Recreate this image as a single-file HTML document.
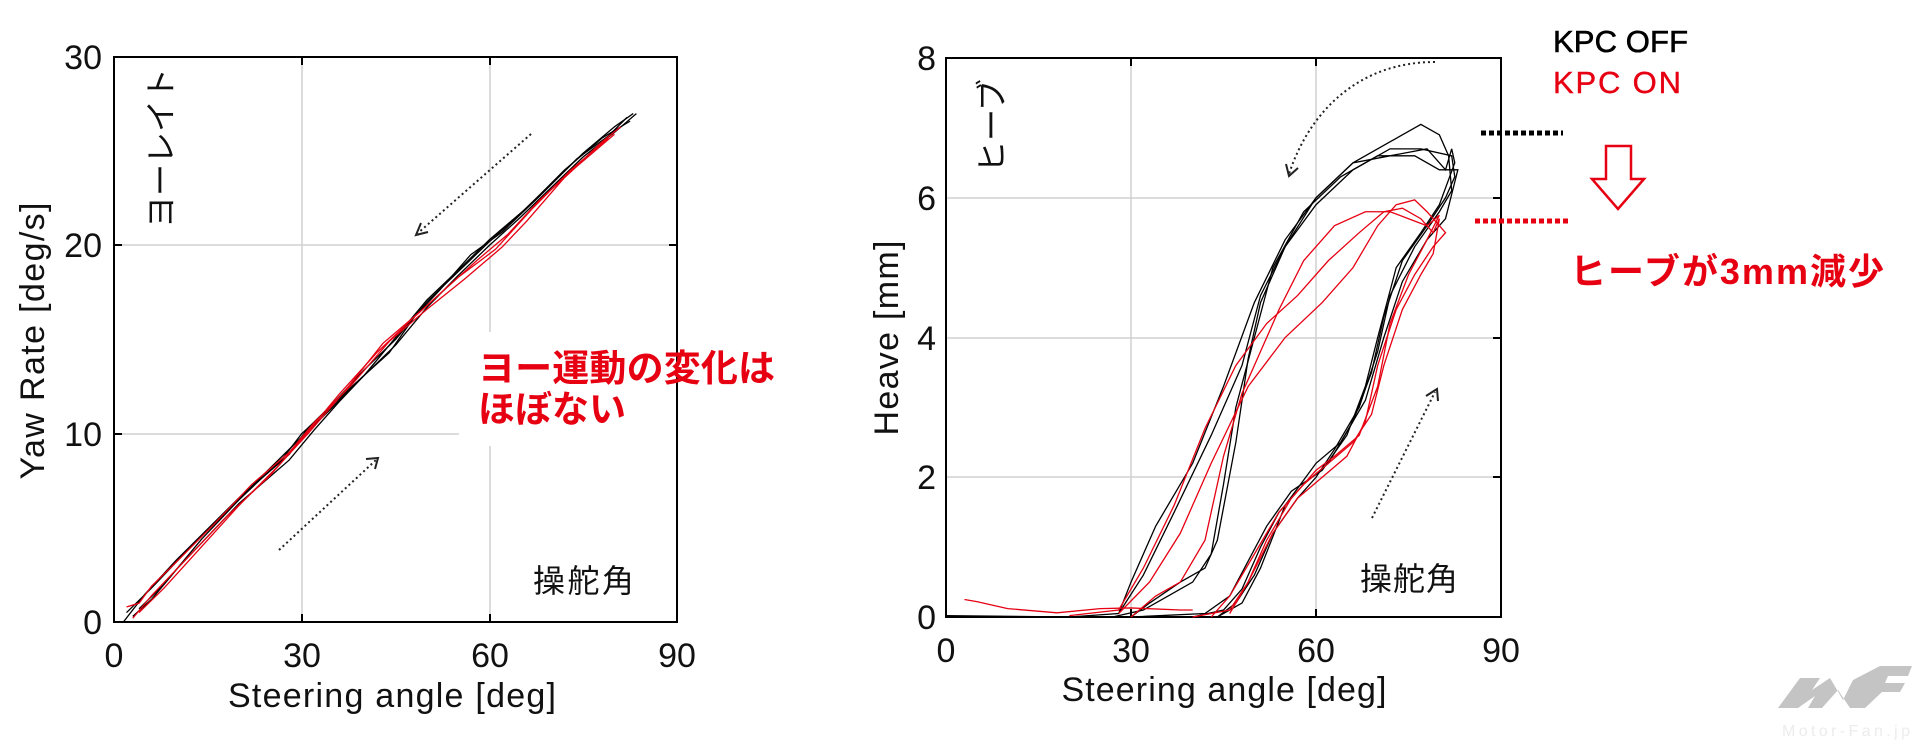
<!DOCTYPE html>
<html><head><meta charset="utf-8"><style>
html,body{margin:0;padding:0;background:#fff;}
svg{display:block;}
text{font-family:"Liberation Sans","Noto Sans CJK JP",sans-serif;}
</style></head><body>
<svg width="1920" height="745" viewBox="0 0 1920 745" xmlns="http://www.w3.org/2000/svg">
<!-- LEFT PLOT -->
<g stroke="#d0d0d0" stroke-width="1.5">
<line x1="302" y1="57" x2="302" y2="622"/><line x1="490" y1="57" x2="490" y2="622"/>
<line x1="114" y1="245" x2="677" y2="245"/><line x1="114" y1="434" x2="677" y2="434"/>
</g>
<rect x="459" y="332" width="240" height="114" fill="#fff"/>
<rect x="114" y="57" width="563" height="565" fill="none" stroke="#000" stroke-width="2"/>
<g stroke="#000" stroke-width="2">
<line x1="302" y1="622" x2="302" y2="614"/><line x1="490" y1="622" x2="490" y2="614"/>
<line x1="302" y1="57" x2="302" y2="65"/><line x1="490" y1="57" x2="490" y2="65"/>
<line x1="114" y1="245" x2="122" y2="245"/><line x1="114" y1="434" x2="122" y2="434"/>
<line x1="677" y1="245" x2="669" y2="245"/>
</g>
<g font-size="34" fill="#111" text-anchor="middle">
<text x="114" y="667">0</text><text x="302" y="667">30</text><text x="490" y="667">60</text><text x="677" y="667">90</text>
</g>
<g font-size="34" fill="#111" text-anchor="end">
<text x="102" y="634">0</text><text x="102" y="446">10</text><text x="102" y="257">20</text><text x="102" y="69">30</text>
</g>
<text x="392" y="707" font-size="34" fill="#111" text-anchor="middle" textLength="328">Steering angle [deg]</text>
<text transform="translate(44,341) rotate(-90)" font-size="34" fill="#111" text-anchor="middle" textLength="277">Yaw Rate [deg/s]</text>
<text transform="translate(172,148) rotate(-90)" font-size="32" fill="#111" text-anchor="middle">ヨーレイト</text>
<text x="533" y="592" font-size="32" fill="#111" textLength="101">操舵角</text>
<text x="478" y="381" font-size="37" fill="#e60012" font-weight="bold" textLength="297">ヨー運動の変化は</text>
<text x="478" y="422" font-size="37" fill="#e60012" font-weight="bold">ほぼない</text>
<g fill="none">
<g transform="matrix(6.256 0 0 -18.83 114 622)">
<polyline vector-effect="non-scaling-stroke" stroke="#000" stroke-width="1.3" points="1.5,0 5,1.5 10,3.3 20,6.6 28,8.9 31,10.3 35,11.6 40,13.4 45,15 50,17 55,18.6 60,20.2 65,21.7 70,23.3 75,24.9 80,26.3 83,27"/>
<polyline vector-effect="non-scaling-stroke" stroke="#000" stroke-width="1.3" points="3,0.3 6,1.2 10,2.8 20,6.3 28,8.6 32,10.2 36,11.7 40,13.1 45,14.7 50,16.7 55,18.4 60,20 65,21.5 70,23.1 75,24.7 80,26 83.5,27"/>
<polyline vector-effect="non-scaling-stroke" stroke="#000" stroke-width="1.3" points="2,0.5 6,1.8 12,3.9 20,6.5 27,8.7 30,10 33,10.9 38,12.5 44,14.3 48,16.2 52,17.6 57,19.5 62,20.7 68,22.6 74,24.6 79,25.8 82,26.8"/>
<polyline vector-effect="non-scaling-stroke" stroke="#000" stroke-width="1.3" points="4,0.7 8,2 14,4.4 22,7.2 29,9.5 34,11.1 40,13.1 46,15.5 50,17.1 56,19 60,20.3 66,22 72,24 78,25.7 82.5,26.6"/>
<polyline vector-effect="non-scaling-stroke" stroke="#e60012" stroke-width="1.3" points="2,0.8 4,1 6,1.9 10,3.2 16,5.2 22,7.3 28,9 32,10.6 38,12.6 44,14.9 50,16.6 56,18.2 62,19.9 66,21.3 72,23.6 78,25.5 81,26.3"/>
<polyline vector-effect="non-scaling-stroke" stroke="#e60012" stroke-width="1.3" points="3,0.2 6,1.4 12,3.5 18,5.6 25,7.8 30,9.7 36,12.1 42,14.3 48,16.2 54,18 58,19.2 63,20.6 68,22.4 74,24.2 80,25.9"/>
<polyline vector-effect="non-scaling-stroke" stroke="#e60012" stroke-width="1.3" points="4,0.5 8,1.8 14,4 20,6.2 26,8.2 31,10 37,12.3 43,14.8 49,16.5 55,18.3 61,19.8 67,22 73,24 79,25.7"/>
</g>
</g>
<g fill="none" stroke="#222" stroke-width="2" stroke-dasharray="2 3">
<line x1="531" y1="134" x2="418" y2="233"/><line x1="279" y1="550" x2="376" y2="460"/>
</g>
<g fill="none" stroke="#222" stroke-width="2">
<polyline points="428,232 416,235 421,223"/><polyline points="366,459 378,458 375,469"/>
</g>

<!-- RIGHT PLOT -->
<g stroke="#d0d0d0" stroke-width="1.5">
<line x1="1131" y1="58" x2="1131" y2="617"/><line x1="1316" y1="58" x2="1316" y2="617"/>
<line x1="946" y1="198" x2="1501" y2="198"/><line x1="946" y1="338" x2="1501" y2="338"/><line x1="946" y1="477" x2="1501" y2="477"/>
</g>
<rect x="946" y="58" width="555" height="559" fill="none" stroke="#000" stroke-width="2"/>
<g stroke="#000" stroke-width="2">
<line x1="1131" y1="617" x2="1131" y2="609"/><line x1="1316" y1="617" x2="1316" y2="609"/>
<line x1="1131" y1="58" x2="1131" y2="66"/><line x1="1316" y1="58" x2="1316" y2="66"/>
<line x1="1501" y1="198" x2="1493" y2="198"/><line x1="1501" y1="338" x2="1493" y2="338"/><line x1="1501" y1="477" x2="1493" y2="477"/>
</g>
<g font-size="34" fill="#111" text-anchor="middle">
<text x="946" y="662">0</text><text x="1131" y="662">30</text><text x="1316" y="662">60</text><text x="1501" y="662">90</text>
</g>
<g font-size="34" fill="#111" text-anchor="end">
<text x="936" y="629">0</text><text x="936" y="489">2</text><text x="936" y="350">4</text><text x="936" y="210">6</text><text x="936" y="70">8</text>
</g>
<text x="1224" y="701" font-size="34" fill="#111" text-anchor="middle" textLength="325">Steering angle [deg]</text>
<text transform="translate(898,338) rotate(-90)" font-size="34" fill="#111" text-anchor="middle" textLength="195">Heave [mm]</text>
<text transform="translate(1003,126) rotate(-90)" font-size="32" fill="#111" text-anchor="middle">ヒーブ</text>
<text x="1360" y="590" font-size="32" fill="#111" textLength="98">操舵角</text>
<g fill="none">
<g transform="matrix(6.167 0 0 -69.875 946 617)">
<polyline vector-effect="non-scaling-stroke" stroke="#000" stroke-width="1.3" points="0,0.02 20,0 28,0.05 30,0.5 34,1.3 40,2.2 45,3.3 50,4.5 55,5.4 60,6 66,6.5 72,6.8 77,7.05 80,6.9 81.5,6.6 82,6.1 80,5.8 76,5.3 72,4.6 70,3.8 67,3 63,2.4 60,2 57,1.7 53,1.2 50,0.6 47,0.2 44,0 40,0"/>
<polyline vector-effect="non-scaling-stroke" stroke="#000" stroke-width="1.3" points="28,0.05 32,0.6 37,1.5 43,2.6 48,3.6 51,4.6 55,5.3 60,5.9 66,6.4 72,6.7 77,6.7 82,6.6 82.5,6.3 81,6 78,5.6 74,5.1 71,4.3 69,3.5 66,2.8 62,2.2 58,1.9 54,1.5 51,1 48,0.4 45,0.1 40,0"/>
<polyline vector-effect="non-scaling-stroke" stroke="#000" stroke-width="1.3" points="30,0 33,0.2 38,0.5 42,0.7 44,1.1 47,2.5 49,3.7 51,4.5 55,5.3 60,6 66,6.5 72,6.6 78,6.7 81,6.4 82,6.7 82.5,6.5 80,5.9 77,5.5 73,5 70,4 68,3.3 65,2.6 61,2.1 56,1.8 52,1.3 49,0.8 46,0.3 42,0.05 30,0"/>
<polyline vector-effect="non-scaling-stroke" stroke="#000" stroke-width="1.3" points="27,0 32,0.1 36,0.3 40,0.5 43,0.9 45,1.9 47,3 50,4 53,5 58,5.8 64,6.3 70,6.6 76,6.6 80,6.4 83,6.4 81,5.7 78,5.4 74,4.8 71,4 68,3.1 64,2.5 60,2.2 55,1.6 51,0.7 48,0.2 44,0 30,0"/>
<polyline vector-effect="non-scaling-stroke" stroke="#e60012" stroke-width="1.3" points="3,0.25 5,0.22 10,0.12 18,0.06 25,0.12 30,0.13 38,0.1 40,0.1"/>
<polyline vector-effect="non-scaling-stroke" stroke="#e60012" stroke-width="1.3" points="20,0.02 28,0.1 32,0.7 37,1.6 42,2.7 47,3.6 52,4.2 57,4.6 62,5.1 67,5.5 71,5.8 74,5.85 77,5.7 79,5.5 80,5.7 79,5.2 77,4.9 74,4.4 71,3.6 69,2.9 66,2.5 62,2.2 58,1.9 54,1.5 50,0.9 46,0.3 43,0"/>
<polyline vector-effect="non-scaling-stroke" stroke="#e60012" stroke-width="1.3" points="28,0.05 33,0.5 38,1.2 43,2.2 49,3.3 55,4 61,4.5 66,5 70,5.6 73,5.9 76,5.97 78,5.8 80,5.6 81,5.5 79,5.3 76,4.9 73,4.4 70,3.6 68,2.8 65,2.3 61,2 57,1.7 53,1.2 49,0.5 46,0.05"/>
<polyline vector-effect="non-scaling-stroke" stroke="#e60012" stroke-width="1.3" points="30,0 34,0.3 38,0.5 42,1.1 45,2.3 48,3.2 51,3.8 54,4.4 58,5.1 63,5.6 68,5.8 72,5.8 75,5.7 78,5.6 80,5.75 78,5.4 75,4.9 72,4.2 70,3.3 67,2.6 63,2.3 60,2.1 56,1.7 52,1.1 49,0.5 46,0.1 40,0"/>
</g>
</g>
<g fill="none" stroke="#222" stroke-width="2" stroke-dasharray="2 3">
<path d="M1435,62 C1360,62 1310,110 1289,174"/><line x1="1372" y1="518" x2="1435" y2="392"/>
</g>
<g fill="none" stroke="#222" stroke-width="2">
<polyline points="1286,164 1289,176 1298,168"/><polyline points="1426,396 1437,389 1438,401"/>
</g>
<text x="1553" y="52" font-size="31" fill="#000" textLength="135" stroke="#000" stroke-width="0.6">KPC OFF</text>
<text x="1553" y="93" font-size="31" fill="#e60012" textLength="128" stroke="#e60012" stroke-width="0.4">KPC ON</text>
<line x1="1481" y1="133" x2="1563" y2="133" stroke="#000" stroke-width="5" stroke-dasharray="5 3"/>
<line x1="1475" y1="221" x2="1570" y2="221" stroke="#e60012" stroke-width="5" stroke-dasharray="5 3"/>
<polygon points="1606,146 1631,146 1631,179 1644,179 1618,209 1592,179 1606,179" fill="#fff" stroke="#e60012" stroke-width="2.5"/>
<text x="1570" y="284" font-size="36" fill="#e60012" font-weight="bold" textLength="314">ヒーブが3mm減少</text>
<g fill="#c4c4c4">
<polygon points="1778,708 1800,678 1820,678 1812,690 1830,678 1843,700 1853,680 1880,666 1912,666 1908,676 1888,676 1885,683 1905,683 1900,692 1882,692 1865,708 1850,708 1838,690 1822,708 1808,708 1815,696 1798,708"/>
</g>
<text x="1782" y="736" font-size="16" fill="#ececec" textLength="128">Motor-Fan.jp</text>
</svg>
</body></html>
